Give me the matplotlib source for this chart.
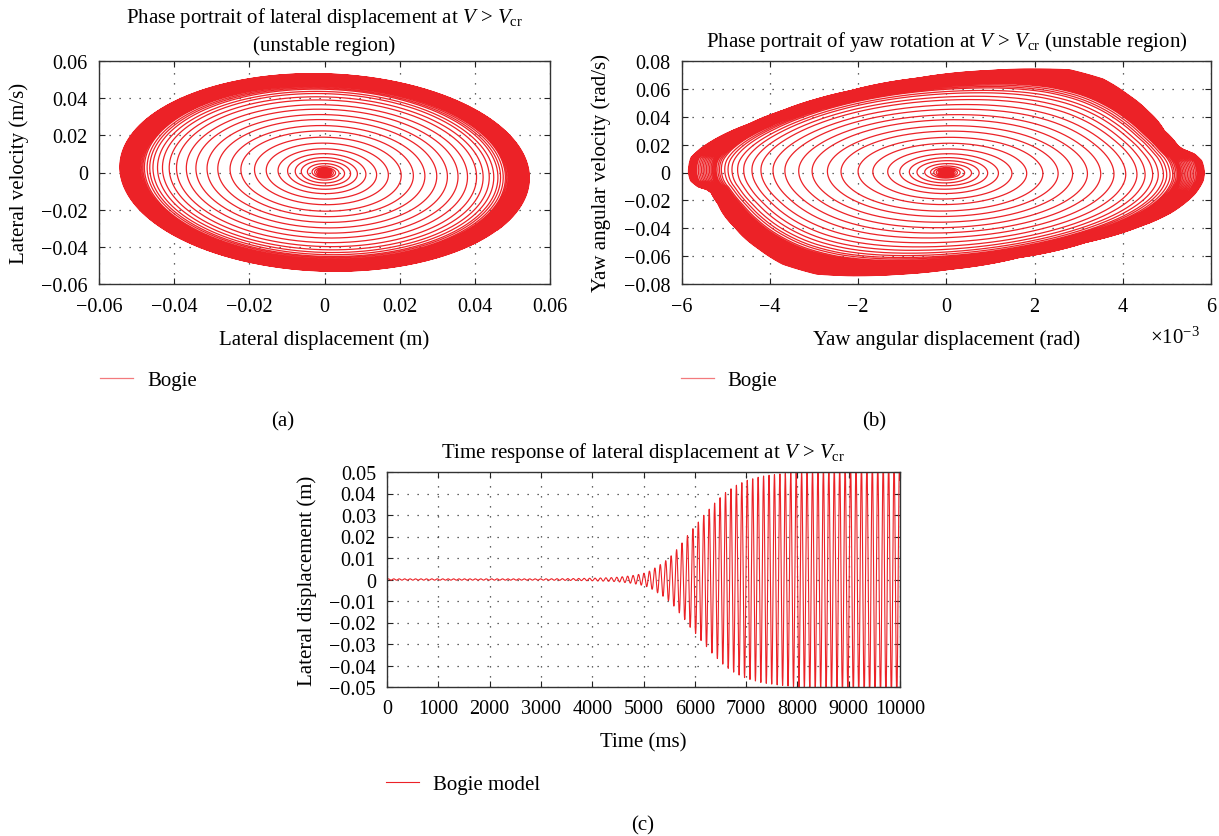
import numpy as np
import matplotlib
matplotlib.use("Agg")
import matplotlib.pyplot as plt
from matplotlib.ticker import FuncFormatter, MultipleLocator

# amplitude envelope of the lateral displacement, read at the oscillation peaks
env_t = [0, 1000, 2000, 3000, 3500, 4000, 4400, 4800, 5050, 5260, 5480, 5690,
         5900, 6140, 6350, 6570, 6780, 7000, 7300, 7600, 8000, 8500, 9000, 9500, 10000]
env_amp = [0.0003, 0.0003, 0.0003, 0.0003, 0.0004, 0.0006, 0.0009, 0.0019, 0.0032,
           0.0060, 0.0097, 0.0153, 0.0220, 0.0290, 0.0347, 0.0400, 0.0435, 0.0460,
           0.0480, 0.0490, 0.0500, 0.0515, 0.0530, 0.0540, 0.0545]
period_ms = 106.0

# lateral limit cycle: peak velocity and where the velocity peak sits in x
lat_v_amp = 0.0532
lat_top_x = -0.003

# yaw limit cycle outline (x in 1e-3 rad, v in rad/s), clockwise from the left end
yaw_x = [-5.85, -5.79, -5.56, -5.10, -4.48, -3.72, -2.95, -2.18, -0.65, 0.88, 2.03,
         2.80, 3.56, 4.10, 4.56, 4.94, 5.25, 5.36, 5.63, 5.79, 5.85,
         5.82, 5.63, 5.10, 4.33, 3.18, 1.65, 0.11, -1.03, -2.18, -2.95, -3.72,
         -4.25, -4.79, -5.17, -5.33, -5.44, -5.63, -5.80]
yaw_v = [0.0, 0.0108, 0.0175, 0.0263, 0.0347, 0.0443, 0.0526, 0.0586, 0.0677, 0.0730,
         0.0742, 0.0737, 0.0670, 0.0562, 0.0443, 0.0300, 0.0191, 0.0167, 0.0132,
         0.0084, 0.0,
         -0.0060, -0.0155, -0.0287, -0.0395, -0.0500, -0.0610, -0.0694, -0.0730,
         -0.0742, -0.0730, -0.0658, -0.0550, -0.0395, -0.0227, -0.0144, -0.0120,
         -0.0103, -0.0060]
yaw_x = [v * 1e-3 for v in yaw_x]
# velocity/displacement ratio of the small inner yaw rings relative to the outline
yaw_inner_ratio = 0.95

RED = "#ec2227"
plt.rcParams["font.family"] = "serif"
plt.rcParams["font.serif"] = ["Liberation Serif", "DejaVu Serif"]
plt.rcParams["mathtext.fontset"] = "custom"
plt.rcParams["mathtext.rm"] = "Liberation Serif"
plt.rcParams["mathtext.it"] = "Liberation Serif:italic"
plt.rcParams["font.size"] = 15

TICK_FS = 14.5
LABEL_FS = 15


def tick_fmt(v, pos):
    if abs(v) < 1e-12:
        return "0"
    return f"{v:.2f}".replace("-", "\u2212")


def style_axes(ax):
    ax.tick_params(direction="in", top=True, right=True, length=4, width=0.8,
                   labelsize=TICK_FS, colors="#222222", labelcolor="black")
    ax.tick_params(axis="x", pad=9)
    ax.tick_params(axis="y", pad=8)
    for sp in ax.spines.values():
        sp.set_linewidth(1.0)
        sp.set_color("#333333")
    ax.grid(True, color="#333333", linestyle=(0, (1, 7)), linewidth=0.9)
    ax.set_axisbelow(True)


def add_legend(ax, x, y, handle_alpha=1.0):
    leg = ax.legend(loc="center left", bbox_to_anchor=(x / W, 1 - y / H),
                    bbox_transform=fig.transFigure, frameon=False, borderpad=0,
                    borderaxespad=0, handlelength=1.6, handletextpad=0.65,
                    fontsize=LABEL_FS)
    for ln in leg.get_lines():
        ln.set_alpha(handle_alpha)
    return leg


# time base and trajectories
t = np.linspace(0, 10000, 60000)
amp = np.exp(np.interp(t, env_t, np.log(env_amp)))
phase = 2 * np.pi * t / period_ms
s = amp / env_amp[-1]

lat_x = amp * np.sin(phase)
skew = -lat_top_x / env_amp[-1]
lat_v = s * lat_v_amp * (np.cos(phase) - skew * np.sin(phase)) / np.sqrt(1 + skew ** 2)

# yaw: outline radius in normalised polar coords; inner rings follow a smoothed
# copy of it, the notches only show up on the last few cycles
yx_amp = max(abs(v) for v in yaw_x)
yv_amp = max(abs(v) for v in yaw_v)
nx = np.array(yaw_x) / yx_amp
nv = np.array(yaw_v) / yv_amp
ang = np.arctan2(nx, nv)
rad = np.hypot(nx, nv)
order = np.argsort(ang)
ang, rad = ang[order], rad[order]

grid = np.linspace(-np.pi, np.pi, 720, endpoint=False)
r_grid = np.interp(grid, ang, rad, period=2 * np.pi)
kernel = np.ones(61) / 61
r_grid_smooth = np.convolve(np.concatenate([r_grid[-30:], r_grid, r_grid[:30]]),
                            kernel, mode="valid")

theta = np.mod(phase + np.pi, 2 * np.pi) - np.pi
r_lc = np.interp(theta, grid, r_grid, period=2 * np.pi)
r_sm = np.interp(theta, grid, r_grid_smooth, period=2 * np.pi)
w1 = s ** 3
w2 = s ** 14
r = (1 - w1) + w1 * r_sm + w2 * (r_lc - r_sm)
yaw_xt = s * yx_amp * r * np.sin(theta)
yaw_vt = s * yv_amp * r * np.cos(theta) * (yaw_inner_ratio + (1 - yaw_inner_ratio) * w1)

W, H = 1219, 837
fig = plt.figure(figsize=(W / 100, H / 100), dpi=100)


def add_axes(l, t_, r_, b):
    return fig.add_axes([l / W, 1 - b / H, (r_ - l) / W, (b - t_) / H])


# (a) lateral phase portrait
ax1 = add_axes(99, 62, 550, 285)
ax1.plot(lat_x, lat_v, color=RED, lw=0.9, label="Bogie")
ax1.set_xlim(-0.06, 0.06)
ax1.set_ylim(-0.06, 0.06)
ax1.xaxis.set_major_locator(MultipleLocator(0.02))
ax1.yaxis.set_major_locator(MultipleLocator(0.02))
ax1.xaxis.set_major_formatter(FuncFormatter(tick_fmt))
ax1.yaxis.set_major_formatter(FuncFormatter(tick_fmt))
style_axes(ax1)
ax1.set_xlabel("Lateral displacement (m)", fontsize=LABEL_FS, labelpad=10)
ax1.set_ylabel("Lateral velocity (m/s)", fontsize=LABEL_FS, labelpad=9)
ax1.set_title("Phase portrait of lateral displacement at $V$ > $V_{\\rm cr}$\n(unstable region)",
              fontsize=LABEL_FS, pad=8, linespacing=1.45)
add_legend(ax1, 100, 381, handle_alpha=0.6)

# (b) yaw phase portrait
ax2 = add_axes(681.5, 62, 1211, 285)
ax2.plot(yaw_xt, yaw_vt, color=RED, lw=0.9, label="Bogie")
ax2.set_xlim(-0.006, 0.006)
ax2.set_ylim(-0.08, 0.08)
ax2.xaxis.set_major_locator(MultipleLocator(0.002))
ax2.yaxis.set_major_locator(MultipleLocator(0.02))
ax2.xaxis.set_major_formatter(FuncFormatter(
    lambda v, p: f"{v * 1e3:.0f}".replace("-", "\u2212") if abs(v) > 1e-12 else "0"))
ax2.yaxis.set_major_formatter(FuncFormatter(tick_fmt))
style_axes(ax2)
ax2.set_xlabel("Yaw angular displacement (rad)", fontsize=LABEL_FS, labelpad=10)
ax2.set_ylabel("Yaw angular velocity (rad/s)", fontsize=LABEL_FS, labelpad=9)
ax2.set_title("Phase portrait of yaw rotation at $V$ > $V_{\\rm cr}$ (unstable region)",
              fontsize=LABEL_FS, pad=11)
fig.text(1150 / W, 1 - 338 / H, "\u00d710$^{-3}$", fontsize=LABEL_FS, va="center")
add_legend(ax2, 681, 381, handle_alpha=0.6)

# (c) time response
ax3 = add_axes(387, 473, 900, 688)
ax3.plot(t, lat_x, color=RED, lw=0.8, label="Bogie model")
ax3.set_xlim(0, 10000)
ax3.set_ylim(-0.05, 0.05)
ax3.xaxis.set_major_locator(MultipleLocator(1000))
ax3.yaxis.set_major_locator(MultipleLocator(0.01))
ax3.xaxis.set_major_formatter(FuncFormatter(lambda v, p: f"{v:.0f}"))
ax3.yaxis.set_major_formatter(FuncFormatter(tick_fmt))
style_axes(ax3)
ax3.set_xlabel("Time (ms)", fontsize=LABEL_FS, labelpad=10)
ax3.set_ylabel("Lateral displacement (m)", fontsize=LABEL_FS, labelpad=9)
ax3.set_title("Time response of lateral displacement at $V$ > $V_{\\rm cr}$",
              fontsize=LABEL_FS, pad=11)
add_legend(ax3, 386, 785)

fig.text(283 / W, 1 - 422 / H, "(a)", ha="center", va="center", fontsize=LABEL_FS)
fig.text(874 / W, 1 - 422 / H, "(b)", ha="center", va="center", fontsize=LABEL_FS)
fig.text(643 / W, 1 - 826 / H, "(c)", ha="center", va="center", fontsize=LABEL_FS)

fig.savefig("out.png", dpi=100)
